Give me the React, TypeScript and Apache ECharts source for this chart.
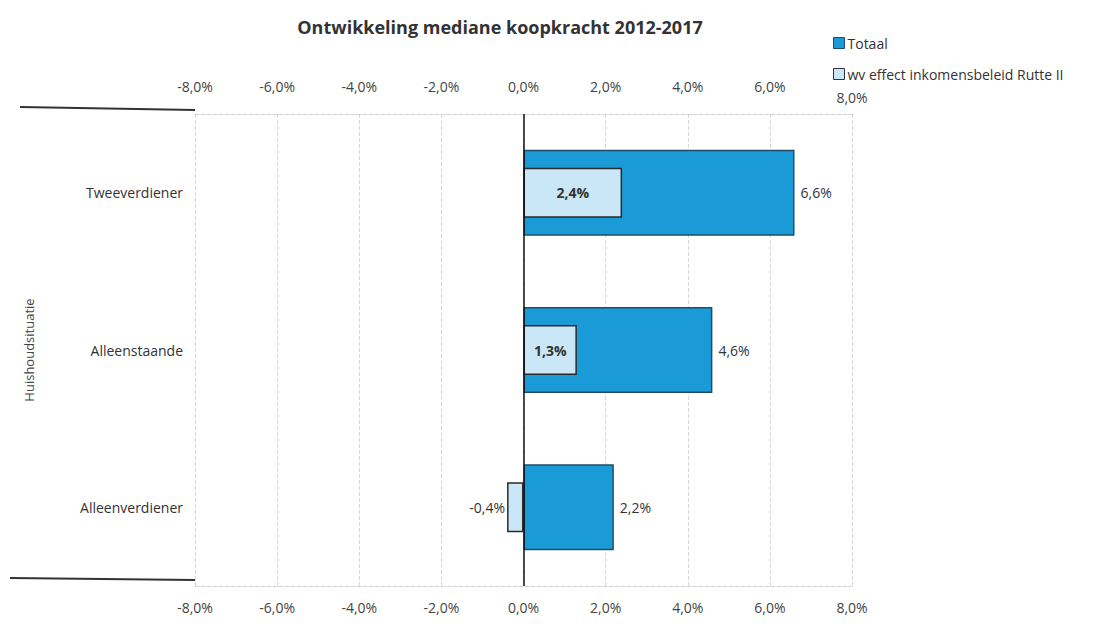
import React, { useEffect, useRef } from "react";
import * as echarts from "echarts";

const categories = ["Tweeverdiener", "Alleenstaande", "Alleenverdiener"];
const totaal = [6.6, 4.6, 2.2];
const effect = [2.4, 1.3, -0.4];
const tickValues = [-8, -6, -4, -2, 0, 2, 4, 6, 8];
const titleText = "Ontwikkeling mediane koopkracht 2012-2017";
const seriesNames = ["Totaal", "wv effect inkomensbeleid Rutte II"];
const yAxisName = "Huishoudsituatie";

const fmt = (v: number) => `${v.toFixed(1).replace(".", ",")}%`;
const FONT = "'Open Sans', 'Noto Sans', sans-serif";

export default function App() {
  const ref = useRef<HTMLDivElement>(null);
  useEffect(() => {
    if (!ref.current) return;
    const chart = echarts.init(ref.current, null, { renderer: "svg" });
    const maxTick = tickValues[tickValues.length - 1];
    const xCommon = {
      type: "value",
      min: tickValues[0],
      max: maxTick,
      interval: 2,
      axisTick: { show: false },
      axisLine: { show: true, lineStyle: { color: "#d0d0d0", type: "dashed", width: 1 } },
    };
    chart.setOption({
      animation: false,
      backgroundColor: "#fff",
      textStyle: { fontFamily: FONT },
      title: {
        text: titleText,
        left: 495,
        textAlign: "center",
        top: 13,
        textStyle: { fontSize: 18, fontWeight: "bold", color: "#333", fontFamily: FONT },
      },
      legend: {
        orient: "vertical",
        left: 828,
        top: 31,
        itemGap: 17,
        itemWidth: 11,
        itemHeight: 11,
        icon: "rect",
        textStyle: { fontSize: 14, color: "#333", fontFamily: FONT, padding: [0, 0, 0, -2] },
        data: [
          { name: seriesNames[0], itemStyle: { color: "#1a9ad6", borderColor: "#1f4e6b", borderWidth: 1 } },
          { name: seriesNames[1], itemStyle: { color: "#c9e7f6", borderColor: "#333", borderWidth: 1 } },
        ],
      },
      grid: { left: 195, right: 253, top: 114, bottom: 42 },
      xAxis: [
        {
          ...xCommon,
          position: "bottom",
          axisLabel: {
            color: "#444",
            fontSize: 14,
            fontFamily: FONT,
            margin: 14,
            formatter: (v: number) => fmt(v),
          },
          splitLine: { show: true, lineStyle: { color: "#d8d8d8", type: "dashed", width: 1 } },
        },
        {
          ...xCommon,
          position: "top",
          axisLabel: {
            color: "#444",
            fontSize: 14,
            fontFamily: FONT,
            margin: 35,
            verticalAlign: "top",
            formatter: (v: number) => (v === maxTick ? `{low|${fmt(v)}}` : fmt(v)),
            rich: { low: { color: "#444", fontSize: 14, fontFamily: FONT, padding: [11, 0, 0, 0] } },
          },
          splitLine: { show: false },
        },
      ],
      yAxis: [
        {
          type: "category",
          data: categories,
          inverse: true,
          axisLine: { show: false },
          axisTick: { show: false },
          axisLabel: { color: "#333", fontSize: 14, fontFamily: FONT, margin: 12 },
          name: yAxisName,
          nameLocation: "middle",
          nameRotate: 90,
          nameGap: 160,
          nameTextStyle: { color: "#444", fontSize: 13, fontFamily: FONT },
        },
        {
          type: "category",
          data: categories,
          inverse: true,
          show: false,
        },
      ],
      series: [
        {
          name: seriesNames[0],
          type: "bar",
          data: totaal,
          yAxisIndex: 0,
          barWidth: 86,
          itemStyle: { color: "#1a9ad6", borderColor: "#1f4e6b", borderWidth: 1.5 },
          label: {
            show: true,
            position: "right",
            distance: 6,
            color: "#333",
            fontSize: 14,
            fontFamily: FONT,
            formatter: (p: any) => fmt(p.value),
          },
          markLine: {
            silent: true,
            symbol: "none",
            label: { show: false },
            lineStyle: { color: "#111", type: "solid", width: 1.5 },
            data: [{ xAxis: 0 }],
          },
          z: 2,
        },
        {
          name: seriesNames[1],
          type: "bar",
          yAxisIndex: 1,
          data: effect.map((v) => ({
            value: v,
            label:
              v < 0
                ? { position: "left", fontWeight: "normal", distance: 2 }
                : { position: "inside", fontWeight: "bold" },
          })),
          barWidth: 50,
          itemStyle: { color: "#c9e7f6", borderColor: "#2a2a2a", borderWidth: 1.5 },
          label: {
            show: true,
            color: "#333",
            fontSize: 14,
            fontFamily: FONT,
            formatter: (p: any) => fmt(p.value),
          },
          z: 3,
        },
      ],
      graphic: [
        { type: "line", shape: { x1: 20, y1: 107, x2: 195, y2: 110 }, style: { stroke: "#333", lineWidth: 2 } },
        { type: "line", shape: { x1: 10, y1: 578, x2: 195, y2: 580 }, style: { stroke: "#333", lineWidth: 2 } },
      ],
    });
    return () => chart.dispose();
  }, []);
  return (
    <div
      ref={ref}
      style={{ position: "fixed", left: 0, top: 0, width: 1105, height: 628, background: "#fff" }}
    />
  );
}
